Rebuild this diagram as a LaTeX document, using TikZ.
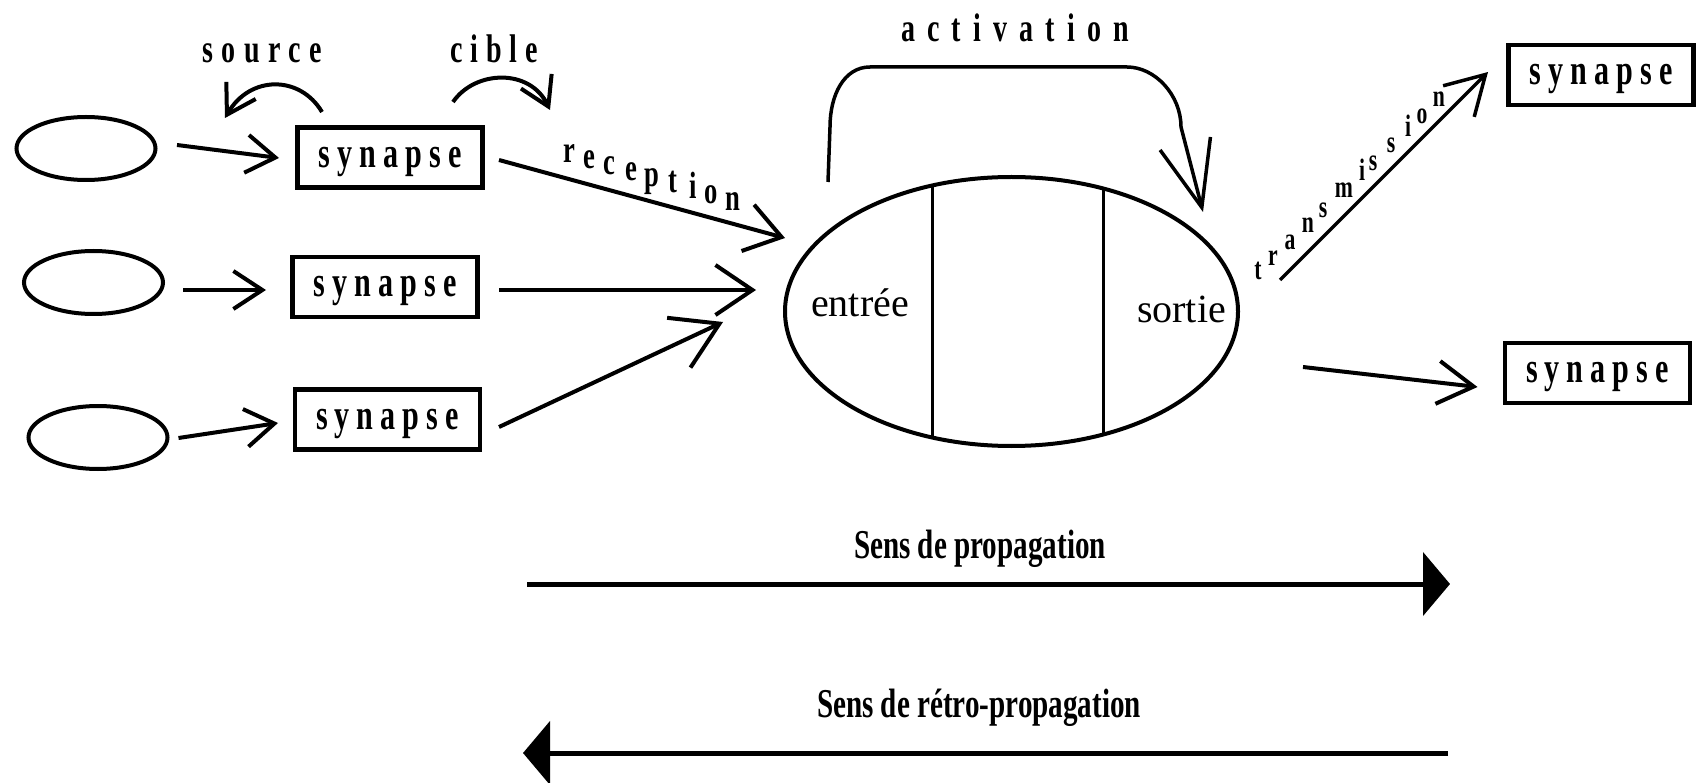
\documentclass[tikz,border=0pt]{standalone}
\usepackage{fontspec}
\setmainfont{Liberation Serif}
\newfontfamily\lsp[FakeStretch=0.7]{Liberation Serif}
\newfontfamily\cnd[FakeStretch=0.71]{Liberation Serif}
\usetikzlibrary{arrows.meta,calc,shapes.geometric}
\begin{document}
\begin{tikzpicture}[x=1pt,y=-1pt,
  every node/.style={inner sep=0pt,outer sep=0pt},
  cell/.style={ellipse,draw,line width=4pt,minimum width=139pt,minimum height=63pt},
  neuron/.style={ellipse,draw,line width=4pt,minimum width=453pt,minimum height=269pt},
  syn/.style={draw,line width=4.5pt,minimum width=185pt,minimum height=60pt,
    text height=20pt,text depth=0pt,
    font=\lsp\bfseries\fontsize{43}{43}\selectfont\addfontfeatures{LetterSpace=16.5}},
  lab/.style={anchor=base,font=\lsp\bfseries\fontsize{40}{40}\selectfont\addfontfeatures{LetterSpace=21}},
  reclet/.style={anchor=base,font=\lsp\bfseries\fontsize{38}{38}\selectfont},
  trlet/.style={anchor=base,font=\lsp\bfseries\fontsize{31}{31}\selectfont},
  part/.style={anchor=base,font=\fontsize{40}{40}\selectfont},
  sens/.style={anchor=base,font=\cnd\bfseries\fontsize{41}{41}\selectfont},
  sarr/.style={line width=4pt,-{Straight Barb[length=29pt,width=38pt]}},
  barb/.style n args={2}{line width=4pt,-{Straight Barb[length=#1pt,width=#2pt]}},
  curv/.style={line width=4pt,-{Straight Barb[length=28pt,width=34pt]}},
  prop/.style={line width=5pt,-{Triangle[length=27pt,width=63pt]}}
]
\useasboundingbox (0,0) rectangle (1697,783);
\fill[white] (0,0) rectangle (1697,783);

% input cells
\node[cell] (e1) at (86,148.5) {};
\node[cell] (e2) at (93.5,282.5) {};
\node[cell] (e3) at (98,437.5) {};

% synapses
\node[syn] (s1) at (390,157.5) {synapse};
\node[syn] (s2) at (385,287) {synapse};
\node[syn] (s3) at (387.5,419.5) {synapse};
\node[syn] (o1) at (1601,75) {synapse};
\node[syn] (o2) at (1597.5,373) {synapse};

% neuron
\node[neuron] (n) at (1011.5,311.5) {};
\begin{scope}
  \clip (n.center) ellipse (226.5 and 134.5);
  \draw[line width=3pt] ([xshift=-79.5]n.north) -- ([xshift=-79.5]n.south);
  \draw[line width=3pt] ([xshift=91.5]n.north) -- ([xshift=91.5]n.south);
\end{scope}
\node[part] (ent) at (860,317) {entrée};
\node[part] (sor) at (1181.5,323) {sortie};

% cell -> synapse arrows
\draw[sarr] ([shift={(21.5,-3.5)}]e1.east) -- ([shift={(-18.5,0.5)}]s1.west);
\draw[sarr] ([shift={(20,7.5)}]e2.east) -- ([shift={(-26.5,3)}]s2.west);
\draw[sarr] ([shift={(11,0.5)}]e3.east) -- ([shift={(-17,3.5)}]s3.west);

% synapse -> neuron
\draw[barb={35}{48}] ([shift={(16.5,2.5)}]s1.east) -- ([shift={(0,-73.5)}]n.west);
\draw[barb={37}{50}] ([shift={(21.5,3)}]s2.east) -- ([shift={(-29,-21.5)}]n.west);
\draw[barb={45}{55}] ([shift={(19,7.5)}]s3.east) -- ([shift={(-62,10.5)}]n.west);

% neuron -> output synapses
\draw[barb={38}{44},line width=3.5pt] ([shift={(42,-31.5)}]n.east) -- ([shift={(-20.5,-3)}]o1.west);
\draw[barb={36}{43}] ([shift={(65,55.5)}]n.east) -- ([shift={(-27.5,14)}]o2.west);

% activation loop
\draw[line width=3.5pt,-{Straight Barb[length=66pt,width=52pt]}]
  ([shift={(-183.5,5)}]n.north) -- ++(2,-55)
  .. controls ++(0,-32) and ++(-26,0) .. ++(40,-60)
  -- ++(257,0)
  .. controls ++(28,0) and ++(0,-32) .. ++(54,60)
  -- ([shift={(191.5,35)}]n.north);
\node[lab] (act) at (1015,42) {\addfontfeatures{LetterSpace=30.5}activation};

% source / cible
\coordinate (srcend) at (225,118);
\coordinate (cibend) at (550,110);
\draw[curv] ([shift={(-68,-15.5)}]s1.north) .. controls ++(-22,-37) and (250,75) .. (srcend);
\draw[curv] ([shift={(63,-25.5)}]s1.north) .. controls ++(22,-32) and (530,68) .. (cibend);
\node[lab] (src) at (262,63) {source};
\node[lab] (cib) at (494,63) {\addfontfeatures{LetterSpace=20}cible};

% reception letters
\foreach \c/\x [count=\i] in {r/569,e/589,c/609,e/631,p/652,t/673,i/693,o/711,n/733}
  \node[reclet] (rec\i) at (\x,{163+(\x-569)*0.287}) {\c};
% transmission letters
\foreach \c/\x [count=\i] in {t/1258,r/1273,a/1290,n/1308,s/1323,m/1344,i/1362,s/1373,s/1391,i/1408,o/1422,n/1439}
  \node[trlet] (tr\i) at (\x,{280-(\x-1258)*0.956}) {\c};

% propagation arrows
\coordinate (pa) at (527,584);
\coordinate (pb) at (1450,584);
\draw[prop] (pa) -- (pb);
\node[sens] (sp) at (980,558) {Sens de propagation};
\coordinate (ra) at (1448,753);
\coordinate (rb) at (523,753);
\draw[prop] (ra) -- (rb);
\node[sens] (sr) at (979,717) {Sens de rétro-propagation};
\end{tikzpicture}
\end{document}
